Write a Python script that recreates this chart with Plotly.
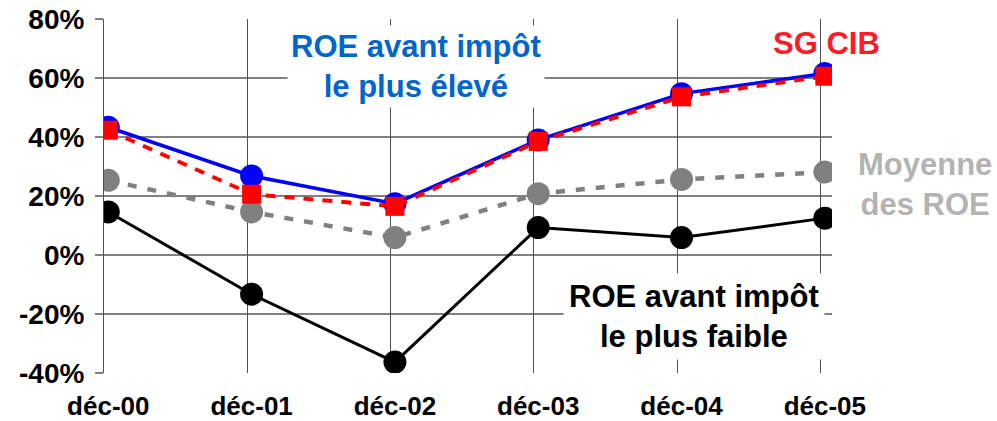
import plotly.graph_objects as go

categories = ["déc-00", "déc-01", "déc-02", "déc-03", "déc-04", "déc-05"]
roe_max = [43.3, 26.8, 17.4, 39.0, 54.7, 61.5]
sg_cib = [42.3, 20.6, 16.5, 38.5, 53.6, 60.6]
roe_moy = [25.3, 14.6, 5.9, 20.8, 25.6, 28.1]
roe_min = [14.6, -13.3, -36.3, 9.3, 5.9, 12.5]
y_ticks = [-40, -20, 0, 20, 40, 60, 80]

xpos = list(range(len(categories)))
FONT = "Liberation Sans, Arial, sans-serif"

fig = go.Figure()
fig.add_trace(go.Scatter(x=xpos, y=roe_moy, mode="lines+markers",
                         line=dict(color="#808080", width=4.5, dash="9px,11px"),
                         marker=dict(color="#808080", size=23), hoverinfo="skip"))
fig.add_trace(go.Scatter(x=xpos, y=roe_min, mode="lines+markers",
                         line=dict(color="#000000", width=3),
                         marker=dict(color="#000000", size=23), hoverinfo="skip"))
fig.add_trace(go.Scatter(x=xpos, y=roe_max, mode="lines+markers",
                         line=dict(color="#0000ff", width=3.5),
                         marker=dict(color="#0000ff", size=23), hoverinfo="skip"))
fig.add_trace(go.Scatter(x=xpos, y=sg_cib, mode="lines+markers",
                         line=dict(color="#ff0000", width=4, dash="10px,9px"),
                         marker=dict(color="#ff0000", size=19, symbol="square"),
                         hoverinfo="skip"))
# dummy trace to carry the offset vertical gridline axis
fig.add_trace(go.Scatter(x=[], y=[], xaxis="x2", showlegend=False, hoverinfo="skip"))

xr = [-0.03, 5.05]
fig.update_layout(
    width=997, height=421,
    margin=dict(l=104, r=165, t=19, b=48),
    paper_bgcolor="white", plot_bgcolor="white",
    showlegend=False,
    font=dict(family=FONT, color="black"),
    xaxis=dict(range=xr, tickvals=xpos, ticktext=categories, showgrid=False,
               zeroline=False, showline=False, ticks="", automargin=False,
               tickfont=dict(family=FONT, size=26, color="black", weight="bold"),
               ticklabelstandoff=15),
    xaxis2=dict(range=xr, overlaying="x", anchor="y", automargin=False,
                tickvals=[p - 0.03 for p in xpos], showticklabels=False,
                showgrid=True, gridcolor="#505050", gridwidth=1, zeroline=False,
                ticks=""),
    yaxis=dict(range=[-40, 80], tickvals=y_ticks, automargin=False,
               ticktext=[f"{v}%" for v in y_ticks],
               showgrid=True, gridcolor="#808080", gridwidth=2, zeroline=False,
               showline=True, linecolor="#505050", linewidth=1,
               ticks="outside", ticklen=8, tickcolor="#808080", tickwidth=2,
               tickfont=dict(family=FONT, size=28, color="black", weight="bold"),
               ticklabelstandoff=5),
)

ann_font = dict(family=FONT, size=31, weight="bold")


def px(xp, yp):
    return (xp - 104) / 728, (373 - yp) / 354


for txt, (cx, cy), col, bg, pad in [
    ("ROE avant impôt<br>le plus élevé", (416, 66), "#0066cc", "white", 3),
    ("ROE avant impôt<br>le plus faible", (694, 316), "black", "white", 5),
    ("SG CIB", (826, 43), "#ff1a2a", None, 0),
    ("Moyenne<br>des ROE", (925, 184), "#b3b3b3", None, 0),
]:
    ax, ay = px(cx, cy)
    fig.add_annotation(xref="paper", yref="paper", x=ax, y=ay,
                       xanchor="center", yanchor="middle",
                       text=txt, showarrow=False,
                       font=dict(ann_font, color=col),
                       bgcolor=bg if bg else "rgba(0,0,0,0)",
                       borderpad=pad, align="center")

fig.write_html("out.html", config={"displayModeBar": False, "staticPlot": True},
               post_script="document.body.style.margin='0';document.body.style.overflow='hidden';")
